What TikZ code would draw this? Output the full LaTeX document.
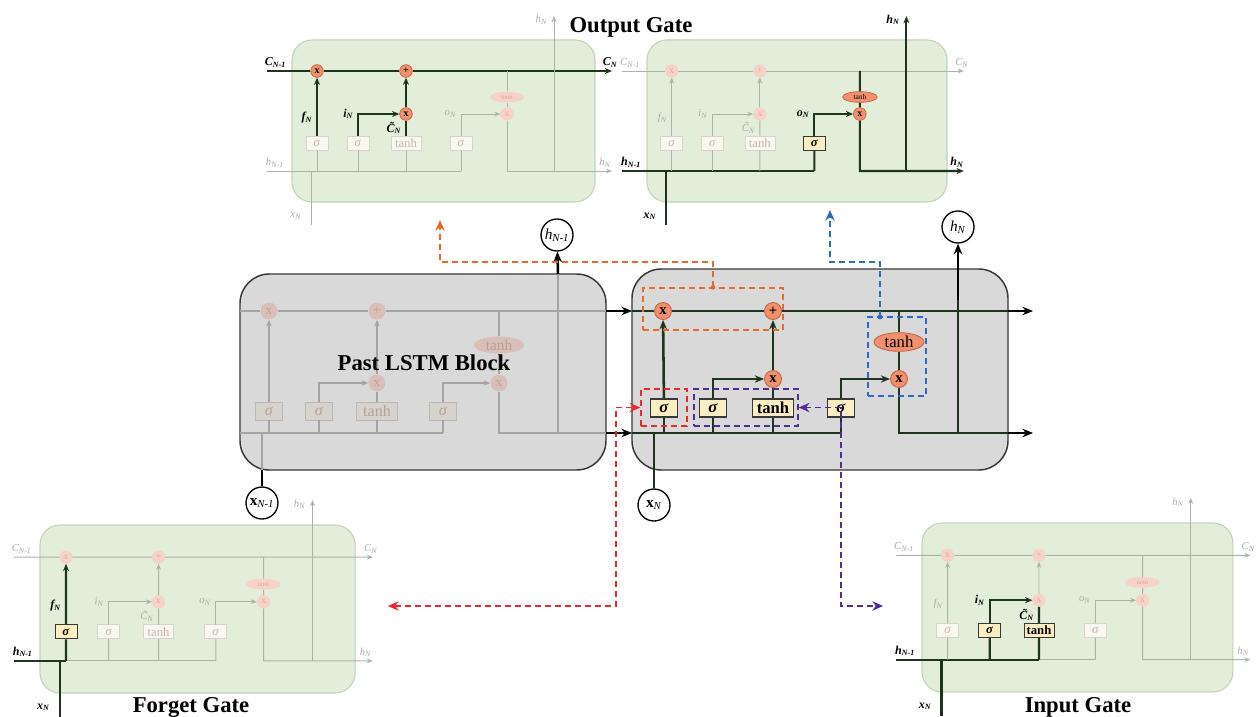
\documentclass[tikz,border=0pt]{standalone}
\usepackage{fontspec}
\setmainfont{Liberation Serif}
\usetikzlibrary{arrows.meta,shapes.geometric,calc}

\definecolor{cellfill}{HTML}{E3EEDA}
\definecolor{celledge}{HTML}{C2D3B6}
\definecolor{fline}{HTML}{ABB3A7}
\definecolor{dline}{HTML}{1D351D}
\definecolor{fcirc}{HTML}{F6D2C9}
\definecolor{fcirctxt}{HTML}{E3A79D}
\definecolor{fbox}{HTML}{F8F8F1}
\definecolor{fboxedge}{HTML}{DAD4C8}
\definecolor{fboxtxt}{HTML}{C8B4AC}
\definecolor{flabel}{HTML}{ABABAB}
\definecolor{ocirc}{HTML}{F0906C}
\definecolor{ocircedge}{HTML}{C0603C}
\definecolor{ybox}{HTML}{FCEEC0}
\definecolor{blockfill}{HTML}{D9D9D9}
\definecolor{blockedge}{HTML}{383838}
\definecolor{pline}{HTML}{A4A4A4}
\definecolor{pcirc}{HTML}{D9BFB7}
\definecolor{ptxt}{HTML}{B5A198}
\definecolor{pbox}{HTML}{D6D2CC}
\definecolor{pboxedge}{HTML}{BDB8B2}
\definecolor{dorange}{HTML}{E8692C}
\definecolor{dblue}{HTML}{2D6AC6}
\definecolor{dred}{HTML}{F0262F}
\definecolor{dpurple}{HTML}{4E2D98}

\newcommand{\mysb}[1]{\textsubscript{#1}}

\tikzset{
  gfl/.style={draw=fline, line width=0.7pt},
  gdl/.style={draw=dline, line width=1.6pt},
  gfa/.style={gfl, -{Stealth[length=4.5pt,width=3.5pt]}},
  gda/.style={gdl, -{Stealth[length=5.5pt,width=4.5pt]}},
  gcF/.style={circle, inner sep=0pt, minimum size=9.5pt, fill=fcirc, draw=fcirc, text=fcirctxt, font=\fontsize{7}{7}\selectfont},
  gcH/.style={circle, inner sep=0pt, minimum size=9.5pt, fill=ocirc, draw=ocircedge, line width=0.5pt, text=black, font=\bfseries\fontsize{7.5}{7.5}\selectfont},
  geF/.style={ellipse, inner sep=0pt, minimum width=26pt, minimum height=8pt, fill=fcirc, draw=none, text=fcirctxt, font=\fontsize{5}{5}\selectfont},
  geH/.style={ellipse, inner sep=0pt, minimum width=26pt, minimum height=8pt, fill=ocirc, draw=ocircedge, line width=0.5pt, text=black, font=\fontsize{5.5}{5.5}\selectfont},
  gbF/.style={rectangle, inner sep=1pt, minimum width=16.5pt, minimum height=10.5pt, fill=fbox, draw=fboxedge, line width=0.5pt, text=fboxtxt, font=\fontsize{9.5}{9.5}\selectfont},
  gbH/.style={rectangle, inner sep=1pt, minimum width=16.5pt, minimum height=10.5pt, fill=ybox, draw=blockedge, line width=0.7pt, text=black, font=\bfseries\fontsize{9.5}{9.5}\selectfont},
  glF/.style={inner sep=0.5pt, text=flabel, font=\itshape\fontsize{8}{8}\selectfont},
  glH/.style={inner sep=0.5pt, text=black, font=\bfseries\itshape\fontsize{9}{9}\selectfont},
  zC/.style={gfa}, zA/.style={gfl}, zB/.style={gfl}, zCc/.style={gfl}, zD/.style={gfl},
  zR/.style={gfa}, zX/.style={gfl}, zHU/.style={gfa},
  zF1/.style={gfl}, zF2/.style={gfa}, zI1/.style={gfl}, zI2/.style={gfa},
  zT1/.style={gfl}, zT2/.style={gfl}, zP/.style={gfa}, zO1/.style={gfl}, zO2/.style={gfa},
  zCT/.style={gfl}, zTO/.style={gfl},
  nFX/.style={gcF}, nPL/.style={gcF}, nIX/.style={gcF}, nOX/.style={gcF}, nTE/.style={geF},
  nBF/.style={gbF}, nBI/.style={gbF}, nBT/.style={gbF}, nBO/.style={gbF},
  labCl/.style={glF}, labCr/.style={glF}, labHl/.style={glF}, labHr/.style={glF},
  labHt/.style={glF}, labX/.style={glF}, labf/.style={glF}, labi/.style={glF},
  labc/.style={glF}, labo/.style={glF},
  blk/.style={fill=blockfill, draw=blockedge, line width=1.1pt, rounded corners=22pt},
  pLin/.style={draw=pline, line width=1.1pt},
  pArr/.style={pLin, -{Stealth[length=5pt,width=4pt]}},
  mLin/.style={draw=dline, line width=1.9pt},
  mArr/.style={mLin, -{Stealth[length=7pt,width=5.5pt]}},
  bLin/.style={draw=black, line width=1.9pt},
  bArr/.style={bLin, -{Stealth[length=8pt,width=6.5pt]}},
  pCirc/.style={circle, inner sep=0pt, minimum size=12.75pt, fill=pcirc, text=ptxt, font=\fontsize{10}{10}\selectfont},
  mCirc/.style={circle, inner sep=0pt, minimum size=12.75pt, fill=ocirc, draw=ocircedge, line width=0.6pt, text=black, font=\bfseries\fontsize{11}{11}\selectfont},
  pEll/.style={ellipse, inner sep=0pt, minimum width=37.5pt, minimum height=12.75pt, fill=pcirc, text=ptxt, font=\fontsize{11.5}{11.5}\selectfont},
  mEll/.style={ellipse, inner sep=0pt, minimum width=37.5pt, minimum height=14pt, fill=ocirc, draw=ocircedge, line width=0.6pt, text=black, font=\fontsize{12.5}{12.5}\selectfont},
  pBox/.style={rectangle, inner sep=1pt, minimum width=20pt, minimum height=13.5pt, fill=pbox, draw=pboxedge, line width=0.6pt, text=ptxt, font=\fontsize{12}{12}\selectfont},
  mBox/.style={rectangle, inner sep=1pt, minimum width=20pt, minimum height=13.5pt, fill=ybox, draw=blockedge, line width=0.8pt, text=black, font=\bfseries\fontsize{12.5}{12.5}\selectfont},
  ioC/.style={circle, draw=black, line width=1pt, fill=white, minimum size=24pt, inner sep=0pt, font=\fontsize{11.5}{11.5}\selectfont},
  titleF/.style={inner sep=0pt, font=\bfseries\fontsize{17}{17}\selectfont, anchor=base},
  dashbox/.style={draw, line width=1.1pt, dash pattern=on 4.5pt off 3pt, inner sep=0pt},
  dashpath/.style={line width=1.1pt, dash pattern=on 4.5pt off 3pt},
  twotip/.style={{Stealth[length=8pt,width=7pt]}-{Stealth[length=8pt,width=7pt]}},
  onetip/.style={-{Stealth[length=8pt,width=7pt]}},
}

\newcommand{\greencell}[1]{%
  \draw[fill=cellfill, draw=celledge, line width=0.8pt, rounded corners=15pt] (0,0) rectangle (303,162);
  \coordinate (#1cl) at (-25,31);
  \coordinate (#1cr) at (320,31);
  \coordinate (#1hl) at (-25,131);
  \coordinate (#1hr) at (320,131);
  \coordinate (#1xb) at (19,185);
  \coordinate (#1xj) at (19,131);
  \coordinate (#1ht) at (262,-24);
  \coordinate (#1hj) at (262,131);
  \node[nFX] (#1fx) at (25,31) {x};
  \node[nPL] (#1pl) at (114,31) {+};
  \node[nIX] (#1ix) at (114,74) {x};
  \node[nOX] (#1ox) at (215,74) {x};
  \node[nTE] (#1th) at (215,57) {tanh};
  \node[nBF] (#1bf) at (25,103) {\textit{σ}};
  \node[nBI] (#1bi) at (66,103) {\textit{σ}};
  \node[nBT, minimum width=22.5pt] (#1bt) at (114,103) {tanh};
  \node[nBO] (#1bo) at (169,103) {\textit{σ}};
  \draw[zC] (#1cl) -- (#1fx) -- (#1pl) -- (#1cr);
  \draw[zA] (#1hl) -- (#1bf |- #1hl);
  \draw[zB] (#1bf |- #1hl) -- (#1bi |- #1hl);
  \draw[zCc] (#1bi |- #1hl) -- (#1bt |- #1hl);
  \draw[zD] (#1bt |- #1hl) -- (#1bo |- #1hl);
  \draw[zR] (#1ox) -- (#1ox |- #1hl) -- (#1hr);
  \draw[zX] (#1xb) -- (#1xj);
  \draw[zHU] (#1hj) -- (#1ht);
  \draw[zF1] (#1bf |- #1hl) -- (#1bf);
  \draw[zF2] (#1bf) -- (#1fx);
  \draw[zI1] (#1bi |- #1hl) -- (#1bi);
  \draw[zI2] (#1bi) |- (#1ix);
  \draw[zT1] (#1bt |- #1hl) -- (#1bt);
  \draw[zT2] (#1bt) -- (#1ix);
  \draw[zP] (#1ix) -- (#1pl);
  \draw[zO1] (#1bo |- #1hl) -- (#1bo);
  \draw[zO2] (#1bo) |- (#1ox);
  \draw[zCT] (#1th |- #1cl) -- (#1th);
  \draw[zTO] (#1th) -- (#1ox);
  \node[labCl, anchor=south west] (#1tcl) at (-28,28) {C\mysb{N-1}};
  \node[labCr, anchor=south] (#1tcr) at (318,28) {C\mysb{N}};
  \node[labHl, anchor=south west] (#1thl) at (-27,128) {h\mysb{N-1}};
  \node[labHr, anchor=south] (#1thr) at (313,128) {h\mysb{N}};
  \node[labHt, anchor=east] (#1tht) at (256,-20) {h\mysb{N}};
  \node[labX, anchor=east] (#1tx) at (10,176) {x\mysb{N}};
  \node[labf, anchor=east] (#1tf) at (21,78) {f\mysb{N}};
  \node[labi, anchor=east] (#1ti) at (62,74) {i\mysb{N}};
  \node[labc, anchor=east] (#1tc) at (110,88) {\~{C}\mysb{N}};
  \node[labo, anchor=east] (#1to) at (165,74) {o\mysb{N}};
}

\begin{document}
\begin{tikzpicture}[x=0.75pt, y=-0.75pt]
\fill[white] (0,0) rectangle (1256,717);
\useasboundingbox (0,0) rectangle (1256,717);

% ---- top-left cell (cell state update)
\begin{scope}[shift={(292,40)}]
  \tikzset{zC/.style={gda}, nFX/.style={gcH}, nPL/.style={gcH}, nIX/.style={gcH},
    zF2/.style={gda}, zI2/.style={gda}, zT2/.style={gdl}, zP/.style={gda},
    labCl/.style={glH}, labCr/.style={glH}, labf/.style={glH}, labi/.style={glH}, labc/.style={glH}}
  \greencell{A}
\end{scope}

% ---- top-right cell (output gate)
\begin{scope}[shift={(647,40)}, xscale=0.99]
  \tikzset{zA/.style={gdl}, zB/.style={gdl}, zCc/.style={gdl}, zD/.style={gdl}, zX/.style={gdl},
    zO1/.style={gdl}, zO2/.style={gda}, zCT/.style={gdl}, zTO/.style={gdl}, zR/.style={gda}, zHU/.style={gda},
    nOX/.style={gcH}, nTE/.style={geH}, nBO/.style={gbH},
    labHl/.style={glH}, labHr/.style={glH}, labHt/.style={glH}, labX/.style={glH}, labo/.style={glH}}
  \greencell{B}
\end{scope}

% ---- bottom-left cell (forget gate)
\begin{scope}[shift={(40,525)}, xscale=1.04, yscale=1.037]
  \tikzset{zA/.style={gdl}, zX/.style={gdl}, zF1/.style={gdl}, zF2/.style={gda}, nBF/.style={gbH},
    labHl/.style={glH}, labX/.style={glH}, labf/.style={glH}}
  \greencell{C}
\end{scope}

% ---- bottom-right cell (input gate)
\begin{scope}[shift={(922,523)}, xscale=1.026, yscale=1.043]
  \tikzset{zA/.style={gdl}, zB/.style={gdl}, zCc/.style={gdl}, zX/.style={gdl},
    zI1/.style={gdl}, zI2/.style={gda}, zT1/.style={gdl}, zT2/.style={gdl},
    nBI/.style={gbH}, nBT/.style={gbH},
    labHl/.style={glH}, labX/.style={glH}, labi/.style={glH}, labc/.style={glH}}
  \greencell{D}
\end{scope}

% ---- past LSTM block
\draw[blk] (240,274) rectangle (606,470);
\coordinate (Pcl) at (240,311);
\coordinate (Pcr) at (606,311);
\coordinate (Phl) at (240,433);
\coordinate (Phr) at (606,433);
\coordinate (Phj) at (558,433);
\coordinate (Pht) at (558,274);
\coordinate (Pxj) at (262,433);
\coordinate (Pxb) at (262,470);
\node[pCirc] (Pfx) at (269,311) {x};
\node[pCirc] (Ppl) at (377,311) {+};
\node[pCirc] (Pix) at (377,383) {x};
\node[pCirc] (Pox) at (499,383) {x};
\node[pEll] (Pth) at (499,345) {tanh};
\node[pBox] (Pbf) at (269,411) {\textit{σ}};
\node[pBox] (Pbi) at (319,411) {\textit{σ}};
\node[pBox, minimum width=31pt] (Pbt) at (377,411) {tanh};
\node[pBox] (Pbo) at (443,411) {\textit{σ}};
\draw[pLin] (Pcl) -- (Pfx) -- (Ppl) -- (Pcr);
\draw[pLin] (Phl) -- (Pbo |- Phl);
\draw[pLin] (Pox) -- (Pox |- Phl) -- (Phr);
\draw[pLin] (Pth |- Pcl) -- (Pth);
\draw[pLin] (Pth) -- (Pox);
\draw[pLin] (Phj) -- (Pht);
\draw[pLin] (Pxj) -- (Pxb);
\foreach \b in {Pbf,Pbi,Pbt,Pbo} \draw[pLin] (\b |- Phl) -- (\b);
\draw[pArr] (Pbf) -- (Pfx);
\draw[pArr] (Pbi) |- (Pix);
\draw[pLin] (Pbt) -- (Pix);
\draw[pArr] (Pix) -- (Ppl);
\draw[pArr] (Pbo) |- (Pox);
\node[titleF] (tPast) at (424,370) {Past LSTM Block};

% ---- current LSTM block
\draw[blk] (632,269) rectangle (1008,470);
\coordinate (Ncl) at (632,311);
\coordinate (Ncr) at (1008,311);
\coordinate (Ncout) at (1033,311);
\coordinate (Nhl) at (632,433);
\coordinate (Nhr) at (1008,433);
\coordinate (Nhout) at (1033,433);
\coordinate (Nhj) at (958,433);
\coordinate (Nhm) at (958,300);
\coordinate (Nxj) at (654,433);
\node[mCirc] (Nfx) at (663,311) {x};
\node[mCirc] (Npl) at (773,311) {+};
\node[mCirc] (Nix) at (773,379) {x};
\node[mCirc] (Nox) at (899,379) {x};
\node[mEll] (Nth) at (899,342) {tanh};
\node[mBox] (Nbf) at (664,408) {\textit{σ}};
\node[mBox] (Nbi) at (713,408) {\textit{σ}};
\node[mBox, minimum width=31pt] (Nbt) at (773,408) {tanh};
\node[mBox] (Nbo) at (841,408) {\textit{σ}};
\draw[mLin] (Ncl) -- (Nfx) -- (Npl) -- (Ncr);
\draw[mLin] (Nhl) -- (Nbo |- Nhl);
\draw[mLin] (Nox) -- (Nox |- Nhl) -- (Nhr);
\draw[mLin] (Nth |- Ncl) -- (Nth);
\draw[mLin] (Nth) -- (Nox);
\draw[mLin] (Nhj) -- (Nhm);
\foreach \b in {Nbf,Nbi,Nbt,Nbo} \draw[mLin] (\b |- Nhl) -- (\b);
\draw[mArr] (Nbf) -- (Nfx);
\draw[mArr] (Nbi) |- (Nix);
\draw[mLin] (Nbt) -- (Nix);
\draw[mArr] (Nix) -- (Npl);
\draw[mArr] (Nbo) |- (Nox);

% ---- inputs / outputs
\node[ioC] (hprev) at (557,235) {\textit{h}\mysb{\textit{N-1}}};
\node[ioC] (xprev) at (262,503) {\textbf{x}\mysb{\textit{N-1}}};
\node[ioC] (hcur) at (958,227) {\textit{h}\mysb{\textit{N}}};
\node[ioC] (xcur) at (654,505) {\textbf{x}\mysb{\textit{N}}};
\draw[bArr] (Pht) -- (hprev);
\draw[bLin] (Pxb) -- (xprev);
\draw[bArr] (Pcr) -- (Ncl);
\draw[bArr] (Phr) -- (Nhl);
\draw[bArr] (Ncr) -- (Ncout);
\draw[bArr] (Nhr) -- (Nhout);
\draw[bArr] (Nhm) -- (hcur);
\draw[mLin] (Nxj) -- (xcur);

% ---- dashed highlight boxes and pointers
\node[dashbox, draw=dorange, minimum width=105pt, minimum height=31.5pt] (obox) at (713,309) {};
\node[dashbox, draw=dblue, minimum width=43.5pt, minimum height=59.25pt] (bbox) at (897,356.5) {};
\node[dashbox, draw=dred, minimum width=34.5pt, minimum height=27.75pt] (rbox) at (664,407.5) {};
\node[dashbox, draw=dpurple, minimum width=78pt, minimum height=27.75pt] (ppbox) at (746,407.5) {};

\coordinate (oK) at (440,262);
\coordinate (oT) at (440,220);
\fill[dorange] (obox.north) circle (1.8pt);
\draw[dashpath, draw=dorange, onetip] (obox.north) |- (oK) -- (oT);

\coordinate (bS) at (880,317);
\coordinate (bK) at (830,262);
\coordinate (bT) at (830,210);
\fill[dblue] (bS) circle (1.8pt);
\draw[dashpath, draw=dblue, onetip] (bS) |- (bK) -- (bT);

\coordinate (rK) at (616,606);
\coordinate (rT) at (388,606);
\draw[dashpath, draw=dred, twotip] (rT) -- (rK) |- (rbox.west);

\coordinate (pK) at (841,606);
\coordinate (pT) at (883,606);
\draw[dashpath, draw=dpurple, twotip] (ppbox.east) -| (pK) -- (pT);

% ---- titles
\node[titleF] (tOut) at (631,33) {Output Gate};
\node[titleF] (tForget) at (191,712) {Forget Gate};
\node[titleF] (tInput) at (1078,712) {Input Gate};
\end{tikzpicture}
\end{document}
